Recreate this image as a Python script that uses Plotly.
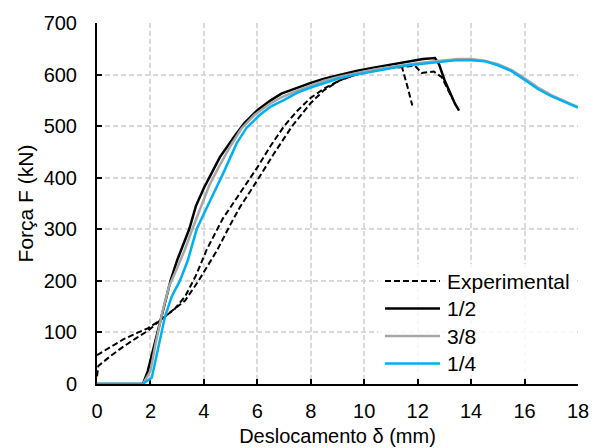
import plotly.graph_objects as go

# Ensaios experimentais (duas amostras)
exp_a_x = [0, 0.5, 1.0, 1.5, 1.9, 2.4, 2.9, 3.3, 3.7, 4.1, 4.7, 5.35, 6.0, 6.5, 7.0,
           7.5, 8.0, 8.5, 9.1, 9.7, 10.3, 10.9, 11.4, 11.6, 11.8]
exp_a_y = [56, 72, 87, 99, 108, 125, 145, 170, 210, 260, 320, 370, 420, 462, 500,
           530, 555, 573, 589, 600, 607, 612, 617, 580, 540]

exp_b_x = [0, 0.05, 0.5, 1.0, 1.5, 1.9, 2.4, 2.9, 3.3, 3.8, 4.5, 5.0, 5.35, 6.0, 6.6,
           7.3, 8.0, 8.5, 9.1, 9.7, 10.3, 10.9, 11.4, 11.9, 12.15, 12.6, 12.9, 13.1, 13.3]
exp_b_y = [15, 35, 54, 73, 90, 103, 125, 145, 162, 200, 260, 310, 343, 395, 445,
           500, 545, 570, 589, 600, 607, 612, 615, 617, 603, 606, 595, 575, 553]

# Modelo numérico 1/2
m12_x = [0, 1.72, 1.9, 2.1, 2.3, 2.5, 2.75, 3.0, 3.2, 3.45, 3.7, 4.0, 4.25, 4.6, 5.1,
         5.5, 6.0, 6.5, 6.9, 7.5, 8.0, 8.5, 9.1, 9.7, 10.3, 11.0, 11.6, 12.2, 12.65,
         12.8, 13.0, 13.2, 13.4, 13.55]
m12_y = [0, 0, 25, 65, 105, 145, 200, 240, 265, 300, 345, 380, 405, 440, 477,
         505, 531, 550, 563, 575, 584, 592, 600, 607, 613, 619, 625, 630, 632,
         620, 590, 565, 543, 530]

# Modelo numérico 3/8
m38_x = [0, 1.72, 2.0, 2.2, 2.45, 2.7, 3.0, 3.3, 3.6, 3.9, 4.2, 4.55, 5.0, 5.4, 5.9,
         6.4, 6.9, 7.5, 8.0, 8.5, 9.0, 9.5, 10.0, 10.5, 11.0, 11.5, 12.0, 12.5, 13.0,
         13.5, 14.0, 14.5, 15.0, 15.5, 16.0, 16.5, 17.0, 17.5, 18.0]
m38_y = [0, 0, 25, 80, 140, 190, 225, 262, 305, 345, 385, 420, 462, 495, 522,
         541, 556, 569, 579, 588, 595, 601, 606, 611, 615, 619, 622, 625, 628,
         630, 630, 627, 620, 609, 593, 575, 560, 548, 537]

# Modelo numérico 1/4
m14_x = [0, 1.7, 2.05, 2.3, 2.54, 2.8, 3.1, 3.4, 3.73, 4.0, 4.35, 4.7, 5.23, 5.6, 6.1,
         6.5, 7.04, 7.5, 8.0, 8.5, 9.0, 9.5, 10.0, 10.5, 11.0, 11.5, 12.0, 12.5, 13.0,
         13.5, 14.0, 14.5, 15.0, 15.5, 16.0, 16.5, 17.0, 17.5, 18.0]
m14_y = [0, 0, 12, 70, 130, 170, 200, 240, 300, 330, 368, 406, 467, 497, 522,
         538, 552, 565, 575, 584, 592, 598, 603, 608, 613, 617, 620, 623, 626,
         628, 628, 626, 618, 607, 590, 572, 558, 547, 536]

x_ticks = [0, 2, 4, 6, 8, 10, 12, 14, 16, 18]
y_ticks = [0, 100, 200, 300, 400, 500, 600, 700]

legend_names = ["Experimental", "1/2", "3/8", "1/4"]
BLUE = "#00b0f0"
GRAY = "#a6a6a6"
BLACK = "#000000"
FONT = "Arial, Liberation Sans, sans-serif"
DASH = "6px,3px"

fig = go.Figure()
for xs, ys in [(exp_a_x, exp_a_y), (exp_b_x, exp_b_y)]:
    fig.add_trace(go.Scatter(x=xs, y=ys, mode="lines", showlegend=False,
                             line=dict(color=BLACK, width=2, dash=DASH)))
fig.add_trace(go.Scatter(x=m12_x, y=m12_y, mode="lines", showlegend=False,
                         line=dict(color=BLACK, width=2.5)))
fig.add_trace(go.Scatter(x=m38_x, y=m38_y, mode="lines", showlegend=False,
                         line=dict(color=GRAY, width=2.5)))
fig.add_trace(go.Scatter(x=m14_x, y=m14_y, mode="lines", showlegend=False,
                         line=dict(color=BLUE, width=2.5)))

W, H = 594, 448
L, R, T, B = 97, 16, 23, 64
pw, ph = W - L - R, H - T - B


def px_to_paper(px, py):
    return (px - L) / pw, (H - B - py) / ph


# Legenda desenhada à mão (amostras de linha longas)
shapes = []
annotations = []
x0, y0 = px_to_paper(378, 264)
x1, y1 = px_to_paper(576, 378)
shapes.append(dict(type="rect", xref="paper", yref="paper", x0=x0, x1=x1, y0=y1, y1=y0,
                   line=dict(width=0), fillcolor="rgba(255,255,255,0.8)", layer="above"))
styles = [dict(color=BLACK, width=2, dash=DASH), dict(color=BLACK, width=2.5),
          dict(color=GRAY, width=2.5), dict(color=BLUE, width=2.5)]
rows = [281, 308.5, 336, 363.5]
for name, st, py in zip(legend_names, styles, rows):
    lx0, ly = px_to_paper(385, py)
    lx1, _ = px_to_paper(440, py)
    shapes.append(dict(type="line", xref="paper", yref="paper", x0=lx0, x1=lx1,
                       y0=ly, y1=ly, line=st, layer="above"))
    tx, _ = px_to_paper(445, py)
    annotations.append(dict(xref="paper", yref="paper", x=tx, y=ly, text=name,
                            showarrow=False, xanchor="left", yanchor="middle",
                            font=dict(family=FONT, size=21, color="#000000")))

axis_common = dict(
    showline=True, linecolor=BLACK, linewidth=2,
    ticks="inside", ticklen=5, tickwidth=1.5, tickcolor=BLACK,
    showgrid=True, gridcolor="#d9d9d9", gridwidth=1.5, griddash="5px,3px",
    zeroline=False, layer="below traces", automargin=False,
    tickfont=dict(family=FONT, size=20, color="#000000"),
)

fig.update_layout(
    width=W, height=H,
    margin=dict(l=L, r=R, t=T, b=B),
    paper_bgcolor="white", plot_bgcolor="white",
    showlegend=False,
    shapes=shapes, annotations=annotations,
    xaxis=dict(range=[0, 18], tickvals=x_ticks, ticktext=[str(v) for v in x_ticks],
               ticklabelstandoff=8,
               title=dict(text="Deslocamento δ (mm)", standoff=8,
                          font=dict(family=FONT, size=20, color="#000000")),
               **axis_common),
    yaxis=dict(range=[0, 700], tickvals=y_ticks, ticktext=[str(v) for v in y_ticks],
               ticklabelstandoff=14,
               title=dict(text="Força F (kN)", standoff=4,
                          font=dict(family=FONT, size=21, color="#000000")),
               **axis_common),
)

fig.write_html("out.html")
